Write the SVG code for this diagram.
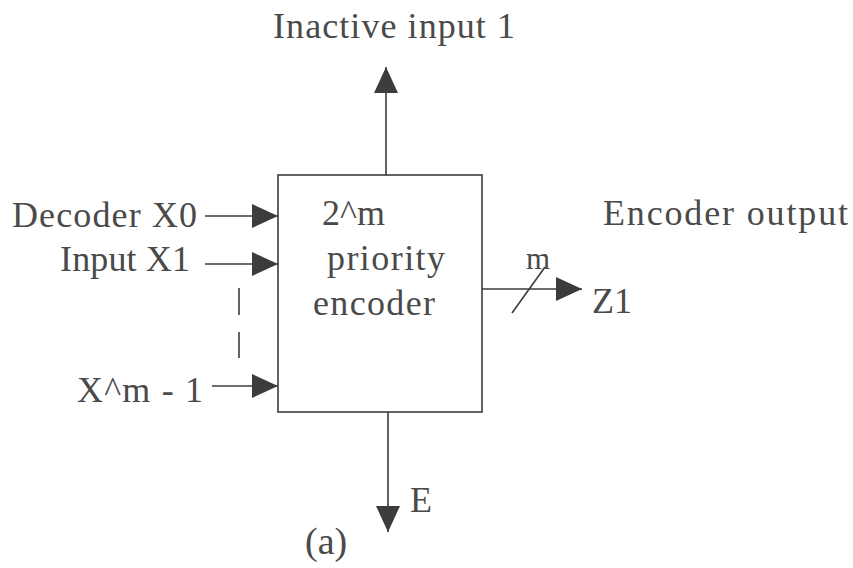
<svg xmlns="http://www.w3.org/2000/svg" width="853" height="568" viewBox="0 0 853 568">
  <defs>
    <marker id="ah" viewBox="0 0 26 24" refX="26" refY="12" markerWidth="26" markerHeight="24" markerUnits="userSpaceOnUse" orient="auto">
      <path d="M0,0 L26,12 L0,24 z" fill="#3c3c3c"/>
    </marker>
    <style>
      .t { font-family: "Liberation Serif", "Times New Roman", serif; font-size: 36px; fill: #4a4a4a; }
      .s { font-size: 31px; }
      .ln { stroke: #3c3c3c; stroke-width: 1.6; fill: none; }
      .ar { stroke: #3c3c3c; stroke-width: 1.6; fill: none; marker-end: url(#ah); }
    </style>
  </defs>
  <rect width="853" height="568" fill="#ffffff"/>

  <g id="connectors">
    <line class="ar" x1="386" y1="175" x2="386" y2="67"/>
    <line class="ar" x1="205" y1="216" x2="278" y2="216"/>
    <line class="ar" x1="205" y1="264" x2="278" y2="264"/>
    <line class="ar" x1="212" y1="386" x2="278" y2="386"/>
    <line class="ar" x1="482" y1="289" x2="582" y2="289"/>
    <line class="ln" x1="512" y1="313" x2="545" y2="267"/>
    <line class="ar" x1="388" y1="412" x2="388" y2="532"/>
    <line class="ln" x1="239" y1="288" x2="239" y2="315" stroke-width="2"/>
    <line class="ln" x1="239" y1="332" x2="239" y2="358" stroke-width="2"/>
  </g>

  <g id="encoder">
    <rect class="ln" x="278" y="175" width="204" height="237"/>
    <text class="t" x="322" y="225">2^m</text>
    <text class="t" x="327" y="270" textLength="118" lengthAdjust="spacing">priority</text>
    <text class="t" x="313" y="315" textLength="122" lengthAdjust="spacing">encoder</text>
  </g>

  <g id="inactive">
    <text class="t" x="273" y="38" textLength="242" lengthAdjust="spacing">Inactive input 1</text>
  </g>
  <g id="decoder-x0">
    <text class="t" x="12" y="227" textLength="185" lengthAdjust="spacing">Decoder X0</text>
  </g>
  <g id="input-x1">
    <text class="t" x="60" y="271" textLength="130" lengthAdjust="spacing">Input X1</text>
  </g>
  <g id="input-xm1">
    <text class="t" x="77" y="402" textLength="126" lengthAdjust="spacing">X^m - 1</text>
  </g>
  <g id="encoder-output">
    <text class="t" x="603" y="225" textLength="245" lengthAdjust="spacing">Encoder output</text>
  </g>
  <g id="bus-width">
    <text class="t s" x="526" y="269">m</text>
  </g>
  <g id="z1">
    <text class="t" x="592" y="313">Z1</text>
  </g>
  <g id="e">
    <text class="t" x="410" y="512">E</text>
  </g>
  <g id="caption">
    <text class="t" x="305" y="554" style="font-size:38px">(a)</text>
  </g>
</svg>
